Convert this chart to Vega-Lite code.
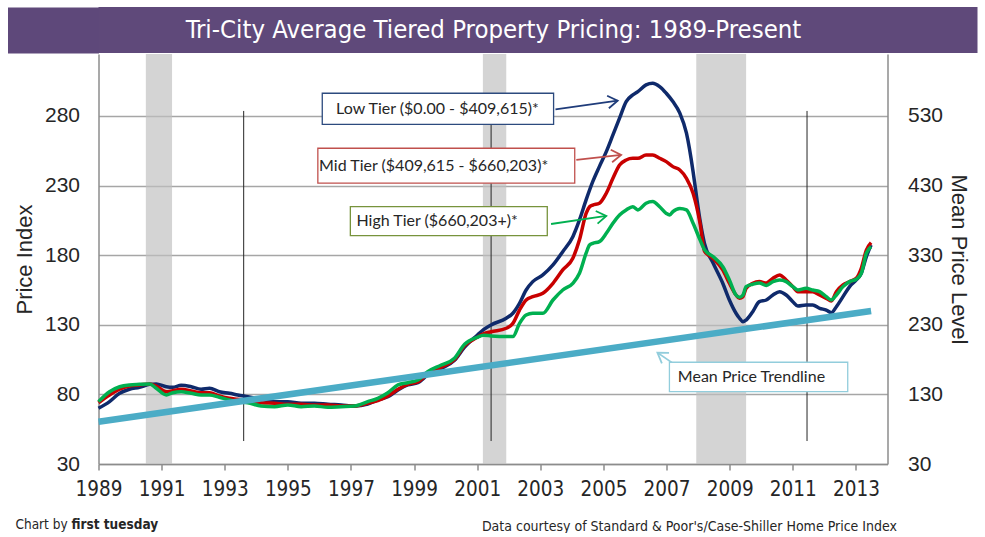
{
  "$schema": "https://vega.github.io/schema/vega-lite/v6.json",
  "background": "white",
  "padding": {"left": 6.5, "top": 7, "right": 0, "bottom": 0},
  "spacing": 1,
  "config": {"view": {"stroke": null}},
  "title": {"text": "first tuesday", "orient": "bottom", "anchor": "start", "frame": "bounds", "font": "DejaVu Sans Condensed, sans-serif", "fontSize": 13.5, "fontWeight": "bold", "color": "#262626", "dx": 65, "dy": -19},
  "datasets": {
    "recessions": [
      {"start": 1990.5, "end": 1991.33},
      {"start": 2001.18, "end": 2001.92},
      {"start": 2007.94, "end": 2009.52}
    ],
    "markers": [{"year": 1993.6}, {"year": 2001.44}, {"year": 2011.45}],
    "low": [
      {"year": 1989.0, "value": 70.0}, {"year": 1989.35, "value": 74.8}, {"year": 1989.67, "value": 80.8}, {"year": 1989.98, "value": 83.7},
      {"year": 1990.3, "value": 85.1}, {"year": 1990.62, "value": 87.2}, {"year": 1990.83, "value": 87.5}, {"year": 1991.15, "value": 85.5},
      {"year": 1991.35, "value": 85.1}, {"year": 1991.62, "value": 86.5}, {"year": 1991.94, "value": 85.5}, {"year": 1992.25, "value": 83.7},
      {"year": 1992.52, "value": 84.4}, {"year": 1992.83, "value": 81.9}, {"year": 1993.15, "value": 80.8}, {"year": 1993.41, "value": 79.6},
      {"year": 1993.73, "value": 78.3}, {"year": 1994.15, "value": 76.5}, {"year": 1994.58, "value": 74.8}, {"year": 1995.0, "value": 74.8},
      {"year": 1995.42, "value": 73.6}, {"year": 1995.84, "value": 73.6}, {"year": 1996.27, "value": 72.9}, {"year": 1996.69, "value": 72.4},
      {"year": 1997.11, "value": 71.7}, {"year": 1997.53, "value": 73.1}, {"year": 1997.85, "value": 76.0}, {"year": 1998.17, "value": 78.3},
      {"year": 1998.49, "value": 83.2}, {"year": 1998.8, "value": 86.8}, {"year": 1999.12, "value": 88.4}, {"year": 1999.43, "value": 94.0},
      {"year": 1999.86, "value": 98.7}, {"year": 2000.28, "value": 104.5}, {"year": 2000.6, "value": 114.0}, {"year": 2001.0, "value": 122.5},
      {"year": 2001.2, "value": 126.5}, {"year": 2001.44, "value": 129.9}, {"year": 2001.92, "value": 134.7}, {"year": 2002.13, "value": 138.3},
      {"year": 2002.34, "value": 145.4}, {"year": 2002.55, "value": 155.0}, {"year": 2002.76, "value": 161.0}, {"year": 2003.08, "value": 165.8},
      {"year": 2003.4, "value": 173.0}, {"year": 2003.71, "value": 182.5}, {"year": 2004.03, "value": 193.3}, {"year": 2004.24, "value": 205.3},
      {"year": 2004.45, "value": 219.7}, {"year": 2004.66, "value": 232.8}, {"year": 2004.87, "value": 243.6}, {"year": 2005.09, "value": 254.4},
      {"year": 2005.3, "value": 266.4}, {"year": 2005.51, "value": 278.4}, {"year": 2005.72, "value": 290.3}, {"year": 2005.93, "value": 295.1},
      {"year": 2006.09, "value": 297.5}, {"year": 2006.35, "value": 302.3}, {"year": 2006.56, "value": 303.5}, {"year": 2006.78, "value": 301.1},
      {"year": 2006.99, "value": 296.3}, {"year": 2007.2, "value": 290.3}, {"year": 2007.42, "value": 282.0}, {"year": 2007.63, "value": 267.6},
      {"year": 2007.84, "value": 240.0}, {"year": 2007.95, "value": 222.0}, {"year": 2008.06, "value": 205.0}, {"year": 2008.2, "value": 188.5},
      {"year": 2008.47, "value": 174.5}, {"year": 2008.78, "value": 159.8}, {"year": 2008.99, "value": 147.8}, {"year": 2009.2, "value": 138.3},
      {"year": 2009.31, "value": 134.7}, {"year": 2009.42, "value": 132.2}, {"year": 2009.52, "value": 133.4}, {"year": 2009.73, "value": 139.4},
      {"year": 2009.94, "value": 146.6}, {"year": 2010.16, "value": 147.8}, {"year": 2010.37, "value": 151.4}, {"year": 2010.58, "value": 153.8},
      {"year": 2010.79, "value": 151.4}, {"year": 2011.0, "value": 146.6}, {"year": 2011.16, "value": 143.5}, {"year": 2011.42, "value": 144.2},
      {"year": 2011.63, "value": 144.2}, {"year": 2011.85, "value": 141.8}, {"year": 2012.06, "value": 140.6}, {"year": 2012.22, "value": 138.7},
      {"year": 2012.38, "value": 143.0}, {"year": 2012.59, "value": 150.2}, {"year": 2012.8, "value": 157.4}, {"year": 2013.01, "value": 162.2},
      {"year": 2013.17, "value": 167.0}, {"year": 2013.33, "value": 179.0}, {"year": 2013.48, "value": 187.3}
    ],
    "mid": [
      {"year": 1989.0, "value": 74.0}, {"year": 1989.35, "value": 79.6}, {"year": 1989.67, "value": 83.7}, {"year": 1989.98, "value": 86.0},
      {"year": 1990.3, "value": 86.8}, {"year": 1990.62, "value": 87.5}, {"year": 1990.83, "value": 86.0}, {"year": 1991.15, "value": 81.9},
      {"year": 1991.35, "value": 82.7}, {"year": 1991.62, "value": 83.7}, {"year": 1991.94, "value": 82.4}, {"year": 1992.25, "value": 81.2},
      {"year": 1992.52, "value": 81.2}, {"year": 1992.83, "value": 78.9}, {"year": 1993.15, "value": 77.2}, {"year": 1993.41, "value": 76.5},
      {"year": 1993.73, "value": 75.5}, {"year": 1994.15, "value": 74.0}, {"year": 1994.58, "value": 73.6}, {"year": 1995.0, "value": 72.9},
      {"year": 1995.42, "value": 72.9}, {"year": 1995.84, "value": 72.4}, {"year": 1996.27, "value": 72.4}, {"year": 1996.69, "value": 71.7},
      {"year": 1997.11, "value": 71.7}, {"year": 1997.53, "value": 73.6}, {"year": 1997.85, "value": 75.5}, {"year": 1998.17, "value": 78.9},
      {"year": 1998.49, "value": 83.7}, {"year": 1998.8, "value": 87.2}, {"year": 1999.12, "value": 88.9}, {"year": 1999.43, "value": 94.7},
      {"year": 1999.86, "value": 99.5}, {"year": 2000.28, "value": 105.0}, {"year": 2000.6, "value": 115.0}, {"year": 2001.0, "value": 121.0},
      {"year": 2001.2, "value": 123.5}, {"year": 2001.44, "value": 125.0}, {"year": 2001.92, "value": 127.5}, {"year": 2002.13, "value": 131.0},
      {"year": 2002.34, "value": 140.6}, {"year": 2002.55, "value": 147.8}, {"year": 2002.76, "value": 150.2}, {"year": 2003.08, "value": 152.6},
      {"year": 2003.4, "value": 159.8}, {"year": 2003.71, "value": 169.4}, {"year": 2004.03, "value": 177.8}, {"year": 2004.24, "value": 191.0},
      {"year": 2004.45, "value": 210.0}, {"year": 2004.56, "value": 214.8}, {"year": 2004.66, "value": 216.0}, {"year": 2004.87, "value": 217.3},
      {"year": 2005.09, "value": 224.5}, {"year": 2005.3, "value": 235.2}, {"year": 2005.51, "value": 244.8}, {"year": 2005.72, "value": 248.4},
      {"year": 2005.93, "value": 249.6}, {"year": 2006.09, "value": 249.6}, {"year": 2006.35, "value": 251.9}, {"year": 2006.56, "value": 251.9},
      {"year": 2006.78, "value": 249.6}, {"year": 2006.99, "value": 247.2}, {"year": 2007.2, "value": 243.6}, {"year": 2007.42, "value": 241.2},
      {"year": 2007.63, "value": 235.2}, {"year": 2007.84, "value": 224.5}, {"year": 2008.06, "value": 202.9}, {"year": 2008.2, "value": 183.0},
      {"year": 2008.47, "value": 177.8}, {"year": 2008.78, "value": 169.4}, {"year": 2008.99, "value": 159.8}, {"year": 2009.2, "value": 151.4},
      {"year": 2009.31, "value": 149.0}, {"year": 2009.42, "value": 150.2}, {"year": 2009.52, "value": 156.2}, {"year": 2009.73, "value": 159.8},
      {"year": 2009.94, "value": 161.0}, {"year": 2010.16, "value": 160.0}, {"year": 2010.37, "value": 163.4}, {"year": 2010.58, "value": 165.8},
      {"year": 2010.79, "value": 162.2}, {"year": 2011.0, "value": 157.4}, {"year": 2011.16, "value": 153.8}, {"year": 2011.42, "value": 153.8},
      {"year": 2011.63, "value": 153.8}, {"year": 2011.85, "value": 151.4}, {"year": 2012.06, "value": 149.0}, {"year": 2012.22, "value": 147.1},
      {"year": 2012.38, "value": 153.8}, {"year": 2012.59, "value": 158.6}, {"year": 2012.8, "value": 161.0}, {"year": 2013.01, "value": 163.4},
      {"year": 2013.17, "value": 170.6}, {"year": 2013.33, "value": 183.7}, {"year": 2013.48, "value": 189.0}
    ],
    "high": [
      {"year": 1989.0, "value": 74.8}, {"year": 1989.35, "value": 81.9}, {"year": 1989.67, "value": 85.5}, {"year": 1989.98, "value": 86.8},
      {"year": 1990.3, "value": 87.2}, {"year": 1990.62, "value": 87.5}, {"year": 1990.83, "value": 84.4}, {"year": 1991.15, "value": 79.6},
      {"year": 1991.35, "value": 81.2}, {"year": 1991.62, "value": 81.9}, {"year": 1991.94, "value": 80.8}, {"year": 1992.25, "value": 79.6},
      {"year": 1992.52, "value": 79.6}, {"year": 1992.83, "value": 77.9}, {"year": 1993.15, "value": 76.0}, {"year": 1993.41, "value": 74.8},
      {"year": 1993.73, "value": 74.0}, {"year": 1994.15, "value": 71.7}, {"year": 1994.58, "value": 71.2}, {"year": 1995.0, "value": 72.4},
      {"year": 1995.42, "value": 71.2}, {"year": 1995.84, "value": 71.7}, {"year": 1996.27, "value": 70.7}, {"year": 1996.69, "value": 71.2},
      {"year": 1997.11, "value": 71.7}, {"year": 1997.53, "value": 74.8}, {"year": 1997.85, "value": 77.2}, {"year": 1998.17, "value": 81.2},
      {"year": 1998.49, "value": 86.8}, {"year": 1998.8, "value": 88.4}, {"year": 1999.12, "value": 90.3}, {"year": 1999.43, "value": 96.3},
      {"year": 1999.86, "value": 101.1}, {"year": 2000.28, "value": 106.0}, {"year": 2000.6, "value": 116.0}, {"year": 2001.0, "value": 121.0},
      {"year": 2001.2, "value": 122.5}, {"year": 2001.44, "value": 122.0}, {"year": 2001.92, "value": 121.5}, {"year": 2002.13, "value": 121.5},
      {"year": 2002.34, "value": 131.0}, {"year": 2002.55, "value": 137.0}, {"year": 2002.76, "value": 138.3}, {"year": 2003.08, "value": 138.3},
      {"year": 2003.4, "value": 147.8}, {"year": 2003.71, "value": 155.0}, {"year": 2004.03, "value": 159.8}, {"year": 2004.24, "value": 167.0},
      {"year": 2004.45, "value": 181.4}, {"year": 2004.56, "value": 187.3}, {"year": 2004.66, "value": 188.5}, {"year": 2004.87, "value": 189.7},
      {"year": 2005.09, "value": 195.7}, {"year": 2005.3, "value": 202.9}, {"year": 2005.51, "value": 208.9}, {"year": 2005.72, "value": 212.5},
      {"year": 2005.93, "value": 214.8}, {"year": 2006.09, "value": 212.5}, {"year": 2006.35, "value": 217.3}, {"year": 2006.56, "value": 218.5},
      {"year": 2006.78, "value": 214.8}, {"year": 2006.99, "value": 210.0}, {"year": 2007.1, "value": 208.9}, {"year": 2007.2, "value": 211.3},
      {"year": 2007.42, "value": 213.6}, {"year": 2007.63, "value": 212.5}, {"year": 2007.84, "value": 202.9}, {"year": 2008.06, "value": 191.0},
      {"year": 2008.2, "value": 184.0}, {"year": 2008.47, "value": 179.0}, {"year": 2008.78, "value": 171.7}, {"year": 2008.99, "value": 162.2},
      {"year": 2009.2, "value": 151.4}, {"year": 2009.31, "value": 149.7}, {"year": 2009.42, "value": 151.4}, {"year": 2009.52, "value": 157.4},
      {"year": 2009.73, "value": 159.1}, {"year": 2009.94, "value": 160.0}, {"year": 2010.16, "value": 158.3}, {"year": 2010.37, "value": 161.0},
      {"year": 2010.58, "value": 162.2}, {"year": 2010.79, "value": 161.0}, {"year": 2011.0, "value": 157.4}, {"year": 2011.16, "value": 155.0},
      {"year": 2011.42, "value": 156.2}, {"year": 2011.63, "value": 155.0}, {"year": 2011.85, "value": 153.8}, {"year": 2012.06, "value": 150.2},
      {"year": 2012.22, "value": 147.8}, {"year": 2012.38, "value": 151.4}, {"year": 2012.59, "value": 157.4}, {"year": 2012.8, "value": 161.0},
      {"year": 2013.01, "value": 162.7}, {"year": 2013.17, "value": 167.0}, {"year": 2013.33, "value": 181.4}, {"year": 2013.48, "value": 186.1}
    ],
    "trend": [{"year": 1989.0, "mean": 90.8}, {"year": 2013.48, "mean": 249.8}],
    "boxes": [
      {"tier": "Low", "x1": 1996.09, "x2": 2003.42, "y1": 274.0, "y2": 296.3, "tx": 1999.74, "ty": 285.3, "label": "Low Tier ($0.00 - $409,615)*"},
      {"tier": "Mid", "x1": 1995.95, "x2": 2004.09, "y1": 231.7, "y2": 256.8, "tx": 1999.62, "ty": 244.2, "label": "Mid Tier ($409,615 - $660,203)*"},
      {"tier": "High", "x1": 1996.98, "x2": 2003.22, "y1": 194.0, "y2": 214.8, "tx": 1999.73, "ty": 204.4, "label": "High Tier ($660,203+)*"},
      {"tier": "Trend", "x1": 2007.09, "x2": 2012.74, "y1": 82.0, "y2": 103.1, "tx": 2009.69, "ty": 92.3, "label": "Mean Price Trendline"}
    ],
    "arrows": [
      {"tier": "Low", "x1": 2003.48, "y1": 284.8, "x2": 2005.45, "y2": 291.0, "angle": -7.9},
      {"tier": "Mid", "x1": 2004.14, "y1": 248.4, "x2": 2005.56, "y2": 252.0, "angle": -6.3},
      {"tier": "High", "x1": 2003.34, "y1": 202.4, "x2": 2005.09, "y2": 208.2, "angle": -8.3},
      {"tier": "Trend", "x1": 2007.66, "y1": 95.2, "x2": 2006.71, "y2": 110.0, "angle": -145.5}
    ]
  },
  "vconcat": [
    {
      "width": 879,
      "height": 46,
      "view": {"fill": "#5f497a", "stroke": null},
      "data": {"values": [{"label": "Tri-City Average Tiered Property Pricing: 1989-Present"}]},
      "mark": {"type": "text", "color": "white", "fontSize": 25.5, "font": "DejaVu Sans Condensed, sans-serif", "dx": -44.5},
      "encoding": {
        "text": {"field": "label", "type": "nominal"},
        "y": {"datum": 23, "type": "quantitative", "scale": {"domain": [0, 46], "nice": false, "zero": false},
          "axis": {
            "values": [1,2,3,4,5,6,7,8,9,10,11,12,13,14,15,16,17,18,19,20,21,22,23,24,25,26,27,28,29,30,31,32,33,34,35,36,37,38,39,40,41,42,43,44,45],
            "labels": false, "domain": false, "grid": false, "title": null,
            "ticks": true, "tickSize": 91, "tickWidth": 2, "tickColor": "#5f497a", "tickOpacity": 1
          }
        }
      }
    },
    {
      "width": 789,
      "height": 410,
      "title": {"text": "Chart by", "orient": "bottom", "anchor": "start", "frame": "bounds", "font": "DejaVu Sans Condensed, sans-serif", "fontSize": 13.5, "fontWeight": "normal", "color": "#262626", "dx": 2, "dy": -19},
      "resolve": {"scale": {"y": "independent"}},
      "layer": [
        {
          "layer": [
            {
              "data": {"name": "recessions"},
              "mark": {"type": "rect", "color": "#bfbfbf", "opacity": 0.67},
              "encoding": {
                "x": {"field": "start", "type": "quantitative", "scale": {"domain": [1989, 2014], "nice": false, "zero": false},
                  "axis": {
                    "values": [1989,1990,1991,1992,1993,1994,1995,1996,1997,1998,1999,2000,2001,2002,2003,2004,2005,2006,2007,2008,2009,2010,2011,2012,2013,2014],
                    "labelExpr": "datum.value % 2 == 1 ? datum.label : ''",
                    "format": "d",
                    "grid": false,
                    "tickSize": 6, "tickColor": "#8c8c8c", "tickWidth": 1.5,
                    "domainColor": "#8c8c8c", "domainWidth": 1.5,
                    "labelFont": "DejaVu Sans Condensed, sans-serif", "labelFontSize": 20.5, "labelColor": "#262626", "labelPadding": 9,
                    "labelOverlap": false, "labelFlush": false,
                    "title": "Data courtesy of Standard & Poor's/Case-Shiller Home Price Index",
                    "titleFont": "DejaVu Sans Condensed, sans-serif", "titleFontSize": 14, "titleFontWeight": "normal", "titleColor": "#262626",
                    "titleAnchor": "end", "titleAlign": "right", "titleX": 798, "titleY": 66, "titleBaseline": "alphabetic"
                  }
                },
                "x2": {"field": "end"}
              }
            },
            {
              "data": {"name": "markers"},
              "mark": {"type": "rule", "color": "#262626", "strokeWidth": 1},
              "encoding": {
                "x": {"field": "year", "type": "quantitative"},
                "y": {"datum": 46.5, "type": "quantitative"},
                "y2": {"datum": 283.6}
              }
            },
            {
              "data": {"name": "low"},
              "mark": {"type": "line", "color": "#0f2a6b", "strokeWidth": 3.5, "interpolate": "monotone"},
              "encoding": {
                "x": {"field": "year", "type": "quantitative"},
                "y": {"field": "value", "type": "quantitative", "scale": {"domain": [30, 324.5], "nice": false, "zero": false},
                  "axis": {
                    "values": [30, 80, 130, 180, 230, 280],
                    "grid": true, "gridColor": "#a6a6a6", "gridWidth": 1.5,
                    "domain": true, "domainColor": "#8c8c8c", "domainWidth": 1.5,
                    "ticks": false, "tickSize": 0,
                    "labelFont": "Liberation Sans, Arial, sans-serif", "labelFontSize": 21, "labelColor": "#262626", "labelPadding": 19,
                    "title": "Price Index", "titleFont": "Liberation Sans, Arial, sans-serif", "titleFontSize": 22, "titleFontWeight": "normal", "titleColor": "#262626", "titlePadding": 8
                  }
                }
              }
            },
            {
              "data": {"name": "mid"},
              "mark": {"type": "line", "color": "#c80000", "strokeWidth": 3.5, "interpolate": "monotone"},
              "encoding": {
                "x": {"field": "year", "type": "quantitative"},
                "y": {"field": "value", "type": "quantitative"}
              }
            },
            {
              "data": {"name": "high"},
              "mark": {"type": "line", "color": "#00b050", "strokeWidth": 3.5, "interpolate": "monotone"},
              "encoding": {
                "x": {"field": "year", "type": "quantitative"},
                "y": {"field": "value", "type": "quantitative"}
              }
            },
            {
              "data": {"name": "arrows"},
              "mark": {"type": "rule", "strokeWidth": 1.8},
              "encoding": {
                "x": {"field": "x1", "type": "quantitative"},
                "y": {"field": "y1", "type": "quantitative"},
                "x2": {"field": "x2"},
                "y2": {"field": "y2"},
                "color": {"field": "tier", "type": "nominal", "legend": null,
                  "scale": {"domain": ["Low", "Mid", "High", "Trend"], "range": ["#1f3c7a", "#c0504d", "#00b050", "#92cddc"]}}
              }
            },
            {
              "data": {"name": "arrows"},
              "mark": {"type": "point", "shape": "M -1 -0.65 L 0 0 L -1 0.65", "filled": false, "size": 380, "strokeWidth": 1.8, "opacity": 1},
              "encoding": {
                "x": {"field": "x2", "type": "quantitative"},
                "y": {"field": "y2", "type": "quantitative"},
                "angle": {"field": "angle", "type": "quantitative", "scale": null},
                "color": {"field": "tier", "type": "nominal", "legend": null}
              }
            },
            {
              "data": {"name": "boxes"},
              "mark": {"type": "rect", "fill": "white", "strokeWidth": 1.3},
              "encoding": {
                "x": {"field": "x1", "type": "quantitative"},
                "x2": {"field": "x2"},
                "y": {"field": "y1", "type": "quantitative"},
                "y2": {"field": "y2"},
                "stroke": {"field": "tier", "type": "nominal", "legend": null,
                  "scale": {"domain": ["Low", "Mid", "High", "Trend"], "range": ["#2c4a7e", "#c0504d", "#77933c", "#92cddc"]}}
              }
            },
            {
              "data": {"name": "boxes"},
              "mark": {"type": "text", "font": "Lato, sans-serif", "fontSize": 16, "color": "#262626", "baseline": "middle", "align": "center"},
              "encoding": {
                "x": {"field": "tx", "type": "quantitative"},
                "y": {"field": "ty", "type": "quantitative"},
                "text": {"field": "label", "type": "nominal"}
              }
            }
          ]
        },
        {
          "data": {"name": "trend"},
          "mark": {"type": "line", "color": "#4bacc6", "strokeWidth": 6.5},
          "encoding": {
            "x": {"field": "year", "type": "quantitative"},
            "y": {"field": "mean", "type": "quantitative", "scale": {"domain": [30, 619], "nice": false, "zero": false},
              "axis": {
                "orient": "right",
                "values": [30, 130, 230, 330, 430, 530],
                "grid": false,
                "domain": true, "domainColor": "#8c8c8c", "domainWidth": 1.5,
                "ticks": false, "tickSize": 0,
                "labelFont": "Liberation Sans, Arial, sans-serif", "labelFontSize": 21, "labelColor": "#262626", "labelPadding": 20,
                "title": "Mean Price Level", "titleFont": "Liberation Sans, Arial, sans-serif", "titleFontSize": 22, "titleFontWeight": "normal", "titleColor": "#262626", "titlePadding": 4
              }
            }
          }
        }
      ]
    }
  ]
}
